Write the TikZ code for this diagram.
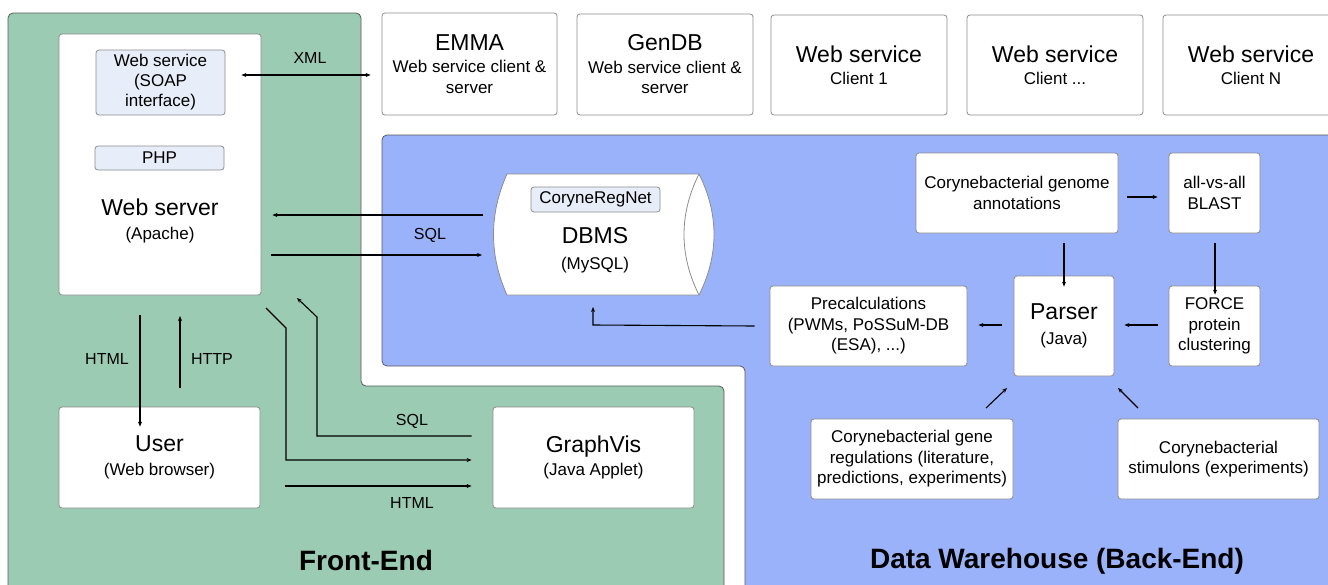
\documentclass[tikz,border=0pt]{standalone}
\usepackage{fontspec}
\setmainfont{Liberation Sans}
\usetikzlibrary{arrows.meta}
\definecolor{feGreen}{RGB}{155,203,179}
\definecolor{beBlue}{RGB}{154,178,250}
\definecolor{innerBox}{RGB}{231,237,249}
\definecolor{boxLine}{RGB}{140,140,140}
\definecolor{regionLine}{RGB}{90,90,90}
\newcommand{\fs}[1]{\fontsize{#1}{#1}\selectfont}
\tikzset{
  region/.style={draw=regionLine, line width=0.8pt, rounded corners=5pt},
  wbox/.style={draw=boxLine, fill=white, line width=0.8pt, rounded corners=3pt, inner sep=0pt, align=center,
     font=\fontsize{17}{20.5}\selectfont},
  ibox/.style={draw=boxLine, fill=innerBox, line width=0.8pt, rounded corners=3pt, inner sep=0pt, align=center,
     font=\fontsize{17}{20}\selectfont},
  lbl/.style={font=\fontsize{16}{20}\selectfont, inner sep=0pt},
  arr/.style={-{Stealth[length=5pt,width=4pt]}, line width=1.1pt},
  darr/.style={{Stealth[length=5pt,width=4pt]}-{Stealth[length=5pt,width=4pt]}, line width=1.1pt},
  big/.style={font=\fontsize{28}{32}\selectfont\bfseries, inner sep=0pt}
}
\begin{document}
\begin{tikzpicture}[x=1pt,y=-1pt]
\useasboundingbox (0,0) rectangle (1328,584);
\fill[white] (0,0) rectangle (1328,584);
% regions
\filldraw[region, fill=feGreen] (8,13) -- (361,13) -- (361,386) -- (724,386) -- (724,610) -- (8,610) -- cycle;
\filldraw[region, fill=beBlue] (382,135) -- (1345,135) -- (1345,610) -- (745,610) -- (745,366) -- (382,366) -- cycle;
\node[big] (fe) at (366,560) {Front-End};
\node[big] (dw) at (1057,561) {Data Warehouse (Back-End)};

% web server
\node[wbox, minimum width=202pt, minimum height=261pt] (webserver) at (160,164.5) {};
\node[ibox, minimum width=129pt, minimum height=65pt] (wsvc) at (160.5,82.5) {Web service\\(SOAP\\interface)};
\node[ibox, minimum width=129pt, minimum height=24pt] (php) at (159.5,158) {PHP};
\node[inner sep=0pt, align=center, font=\fontsize{17}{24}\selectfont] (wstext) at (160,221) {{\fs{23}Web server}\\(Apache)};

% top boxes
\node[wbox, minimum width=175pt, minimum height=102pt] (emma) at (469.5,64) {{\fs{23}EMMA}\\[2pt]Web service client \&\\server};
\node[wbox, minimum width=176pt, minimum height=101pt] (gendb) at (665,64.5) {{\fs{23}GenDB}\\[2pt]Web service client \&\\server};
\node[wbox, minimum width=176pt, minimum height=100pt] (c1) at (859,65) {{\fs{23}Web service}\\[1pt]Client 1};
\node[wbox, minimum width=176pt, minimum height=100pt] (cdots) at (1055,65) {{\fs{23}Web service}\\[1pt]Client ...};
\node[wbox, minimum width=176pt, minimum height=100pt] (cn) at (1251,65) {{\fs{23}Web service}\\[1pt]Client N};

% DBMS cylinder
\filldraw[draw=boxLine, fill=white, line width=0.8pt]
  (507,174) -- (699,174) .. controls (719,214) and (719,255) .. (699,295)
  -- (507,295) .. controls (489,255) and (489,214) .. (507,174) -- cycle;
\draw[boxLine, line width=0.8pt] (699,174) .. controls (679,214) and (679,255) .. (699,295);
\node[inner sep=0pt, minimum width=206pt, minimum height=121pt] (dbms) at (603,234.5) {};
\node[ibox, minimum width=129pt, minimum height=25pt] (crn) at (595.5,199.5) {CoryneRegNet};
\node[inner sep=0pt, align=center, font=\fontsize{17}{26}\selectfont] (dbmstext) at (595,250) {{\fs{23}DBMS}\\(MySQL)};

% lower front-end boxes
\node[wbox, minimum width=201pt, minimum height=101pt] (user) at (159.5,457.5) {{\fs{23}User}\\[3pt](Web browser)};
\node[wbox, minimum width=201pt, minimum height=101pt] (graphvis) at (593.5,457.5) {{\fs{23}GraphVis}\\[3pt](Java Applet)};

% back-end boxes
\node[wbox, minimum width=202pt, minimum height=80pt] (genome) at (1017,193) {Corynebacterial genome\\annotations};
\node[wbox, minimum width=91pt, minimum height=80pt] (blast) at (1214.5,193) {all-vs-all\\BLAST};
\node[wbox, minimum width=197pt, minimum height=80pt] (precalc) at (868.5,326) {Precalculations\\(PWMs, PoSSuM-DB\\(ESA), ...)};
\node[wbox, minimum width=100pt, minimum height=100pt] (parser) at (1064,326) {{\fs{23}Parser}\\[5pt](Java)};
\node[wbox, minimum width=91pt, minimum height=80pt] (force) at (1214.5,326) {FORCE\\protein\\clustering};
\node[wbox, minimum width=202pt, minimum height=80pt] (genreg) at (912,459) {Corynebacterial gene\\regulations (literature,\\predictions, experiments)};
\node[wbox, minimum width=201pt, minimum height=80pt] (stim) at (1218.5,459) {Corynebacterial\\stimulons (experiments)};

% labels
\node[lbl] (lxml) at (310,58) {XML};
\node[lbl] (lsql1) at (430,235) {SQL};
\node[lbl] (lhtml1) at (107,359) {HTML};
\node[lbl] (lhttp) at (212,359) {HTTP};
\node[lbl] (lsql2) at (412,421) {SQL};
\node[lbl] (lhtml2) at (412,503) {HTML};

% connectors
\draw[darr] ([xshift=16pt]wsvc.east |- 0,75) -- ([xshift=-11pt]emma.west |- 0,75);
\draw[arr] (483,215) -- ([xshift=11pt]webserver.east |- 0,215);
\draw[arr] ([xshift=10pt]webserver.east |- 0,255) -- (482,255);
\draw[arr] ([xshift=-15pt]precalc.west) -- (593,325) -- (593,307);
\draw[arr] (140,315) -- ([yshift=-20pt]user.north -| 140,0);
\draw[arr] (180,388) -- (180,316);
\draw[arr] (266,308) -- (286,328) -- (286,460) -- ([xshift=-21pt]graphvis.west |- 0,460);
\draw[arr] ([xshift=-21pt]graphvis.west |- 0,436) -- (317,436) -- (317,317) -- (297,298);
\draw[arr] (285,486) -- ([xshift=-21pt]graphvis.west |- 0,486);
\draw[arr] (1127,197) -- ([xshift=-11pt]blast.west |- 0,197);
\draw[arr] (1064,243) -- ([yshift=-11pt]parser.north);
\draw[arr] (1215,243) -- ([yshift=-9pt]force.north -| 1215,0);
\draw[arr] ([xshift=-11pt]force.west |- 0,325) -- ([xshift=10pt]parser.east |- 0,325);
\draw[arr] ([xshift=-12pt]parser.west |- 0,325) -- ([xshift=11pt]precalc.east |- 0,325);
\draw[arr] (986,408) -- (1007,388);
\draw[arr] (1138,408) -- (1118,388);
\end{tikzpicture}
\end{document}
